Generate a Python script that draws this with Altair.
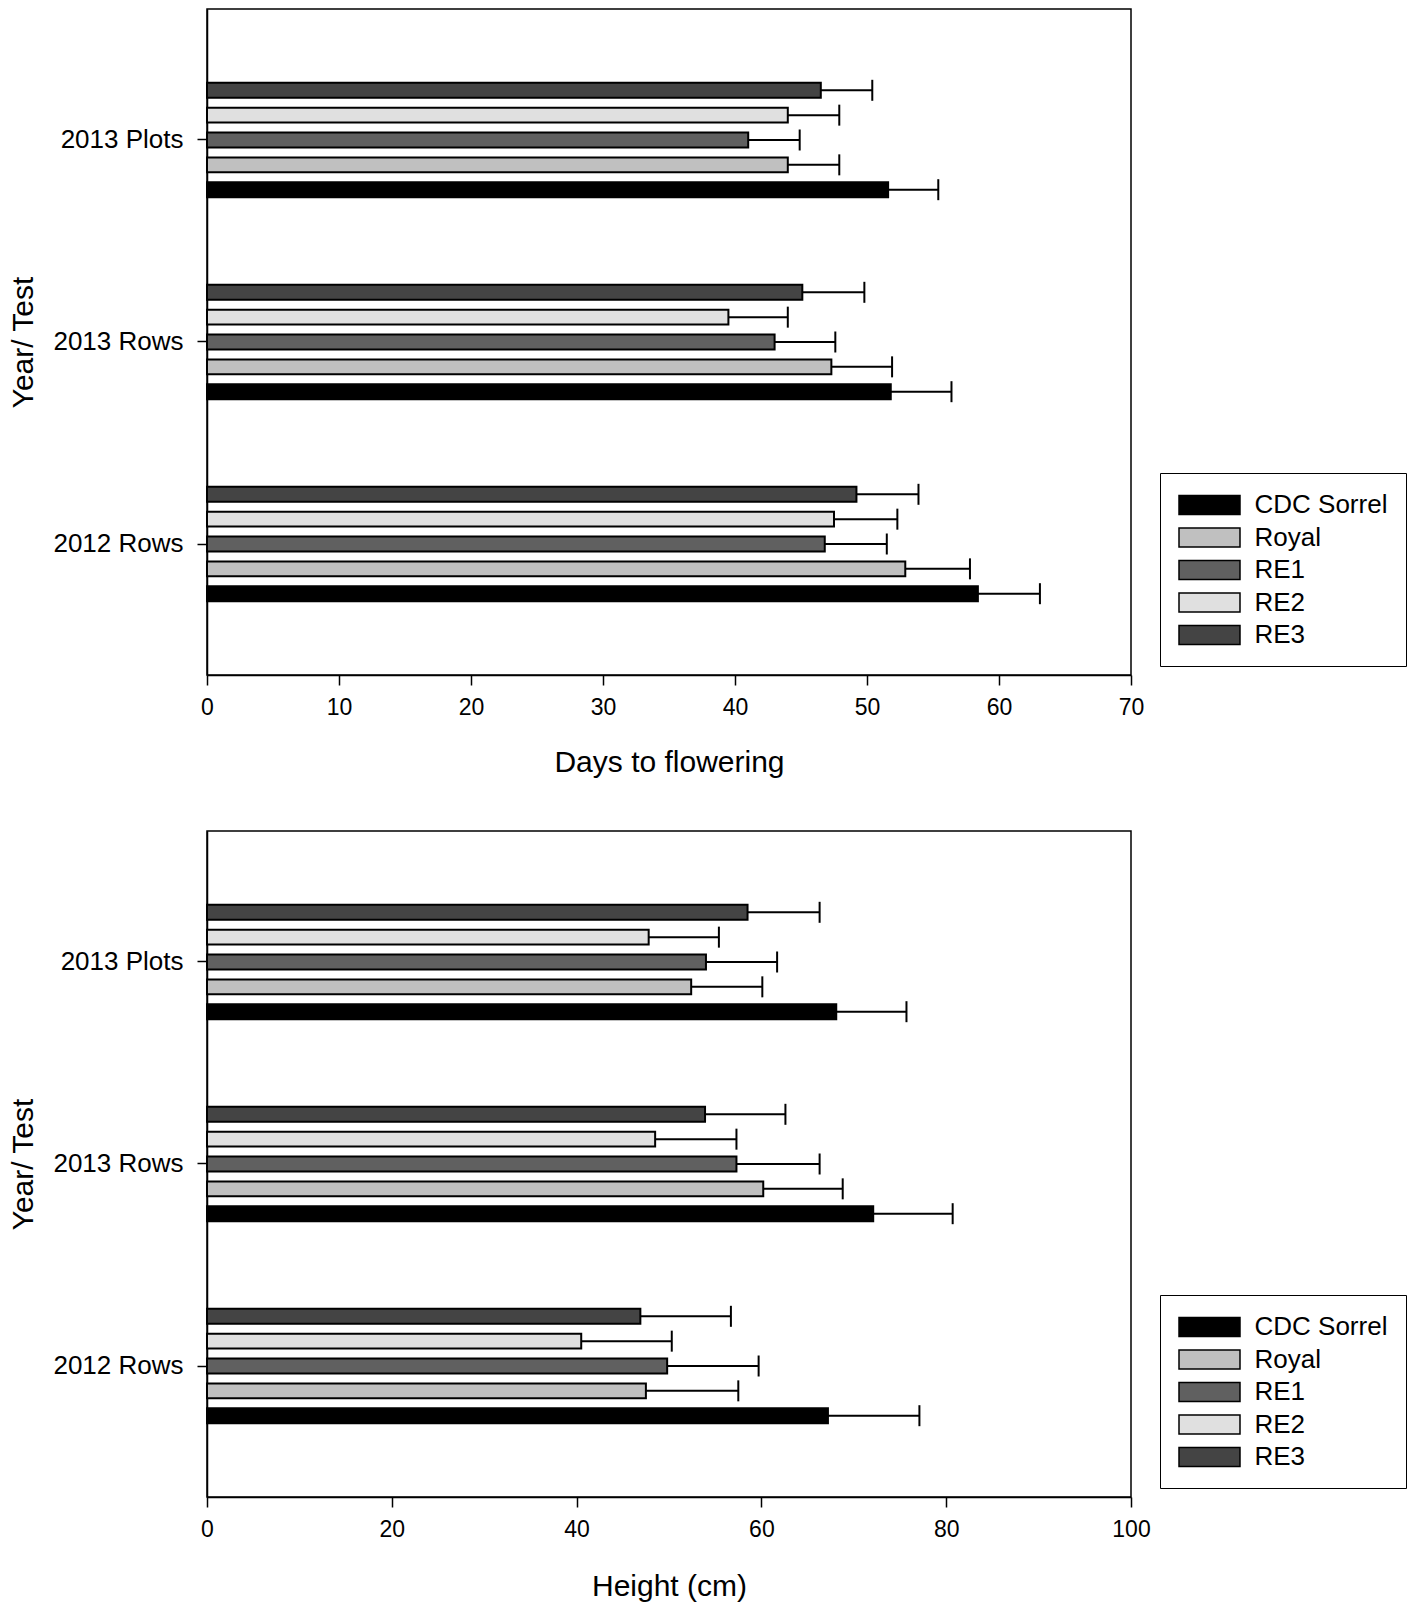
import altair as alt
import pandas as pd

groups = ["2013 Plots", "2013 Rows", "2012 Rows"]
series = ["CDC Sorrel", "Royal", "RE1", "RE2", "RE3"]
bar_order = ["RE3", "RE2", "RE1", "Royal", "CDC Sorrel"]
colors = ["#000000", "#c0c0c0", "#606060", "#e0e0e0", "#444444"]

# Days to flowering (series order: CDC Sorrel, Royal, RE1, RE2, RE3)
dtf_2013_plots = [51.6, 44.0, 41.0, 44.0, 46.5]
dtf_2013_plots_se = [3.8, 3.9, 3.9, 3.9, 3.9]
dtf_2013_rows = [51.8, 47.3, 43.0, 39.5, 45.1]
dtf_2013_rows_se = [4.6, 4.6, 4.6, 4.5, 4.7]
dtf_2012_rows = [58.4, 52.9, 46.8, 47.5, 49.2]
dtf_2012_rows_se = [4.7, 4.9, 4.7, 4.8, 4.7]

# Height in cm (series order: CDC Sorrel, Royal, RE1, RE2, RE3)
ht_2013_plots = [68.1, 52.4, 54.0, 47.8, 58.5]
ht_2013_plots_se = [7.6, 7.7, 7.7, 7.6, 7.8]
ht_2013_rows = [72.1, 60.2, 57.3, 48.5, 53.9]
ht_2013_rows_se = [8.6, 8.6, 9.0, 8.8, 8.7]
ht_2012_rows = [67.2, 47.5, 49.8, 40.5, 46.9]
ht_2012_rows_se = [9.9, 10.0, 9.9, 9.8, 9.8]

dtf_ticks = [0, 10, 20, 30, 40, 50, 60, 70]
ht_ticks = [0, 20, 40, 60, 80, 100]


def build(means, ses):
    rows = []
    for g, m, s in zip(groups, means, ses):
        for name, v, e in zip(series, m, s):
            rows.append({"group": g, "series": name, "value": v, "upper": v + e})
    return pd.DataFrame(rows)


dtf_df = build([dtf_2013_plots, dtf_2013_rows, dtf_2012_rows],
               [dtf_2013_plots_se, dtf_2013_rows_se, dtf_2012_rows_se])
ht_df = build([ht_2013_plots, ht_2013_rows, ht_2012_rows],
              [ht_2013_plots_se, ht_2013_rows_se, ht_2012_rows_se])

FONT = "Liberation Sans, Arial, sans-serif"


def panel(df, xmax, ticks, xtitle, title_pad):
    base = alt.Chart(df).encode(
        y=alt.Y("group:N", sort=groups,
                scale=alt.Scale(paddingInner=0.385, paddingOuter=0.341),
                axis=alt.Axis(title="Year/ Test", labelPadding=14, titlePadding=14,
                              labelFontSize=26)),
        yOffset=alt.YOffset("series:N", sort=bar_order,
                            scale=alt.Scale(paddingInner=0.4, paddingOuter=0.2)),
    )
    xscale = alt.Scale(domain=[0, xmax], nice=False, zero=True)
    bars = base.mark_bar(stroke="black", strokeWidth=2, opacity=1).encode(
        x=alt.X("value:Q", scale=xscale,
                axis=alt.Axis(values=ticks, title=xtitle, labelPadding=11,
                              titlePadding=title_pad, labelFontSize=23,
                              labelFlush=False)),
        color=alt.Color("series:N", scale=alt.Scale(domain=series, range=colors),
                        legend=alt.Legend(
                            title=None, orient="none", legendX=953, legendY=464,
                            direction="vertical",
                            symbolType="M-2.346,-0.731H2.346V0.731H-2.346Z",
                            symbolSize=676, symbolOffset=17.5,
                            symbolStrokeColor="black", symbolStrokeWidth=1.5,
                            symbolOpacity=1,
                            labelFontSize=26, labelFont=FONT, labelColor="black",
                            labelOffset=31, padding=18, rowPadding=5.5,
                            strokeColor="black", fillColor="white")),
    )
    rules = base.mark_rule(color="black", strokeWidth=2).encode(
        x=alt.X("value:Q", scale=xscale), x2="upper:Q")
    caps = base.mark_tick(color="black", thickness=2, size=21, orient="vertical",
                          opacity=1).encode(x=alt.X("upper:Q", scale=xscale))
    return alt.layer(bars, rules, caps).properties(width=924, height=666)


top = panel(dtf_df, 70, dtf_ticks, "Days to flowering", 28)
bottom = panel(ht_df, 100, ht_ticks, "Height (cm)", 30)

chart = alt.vconcat(top, bottom, spacing=52).resolve_scale(
    color="independent", x="independent"
).properties(
    padding={"left": 0, "top": 0, "right": 0, "bottom": 0},
    background="white"
).configure_view(
    stroke="black", strokeWidth=1.5
).configure_axis(
    domainColor="black", domainWidth=1.5, tickColor="black", tickWidth=1.5,
    tickSize=10, grid=False, labelFont=FONT, labelColor="black",
    titleFont=FONT, titleFontSize=30, titleFontWeight="normal", titleColor="black"
)

chart.save("out.html", embed_options={"renderer": "svg", "actions": False})
